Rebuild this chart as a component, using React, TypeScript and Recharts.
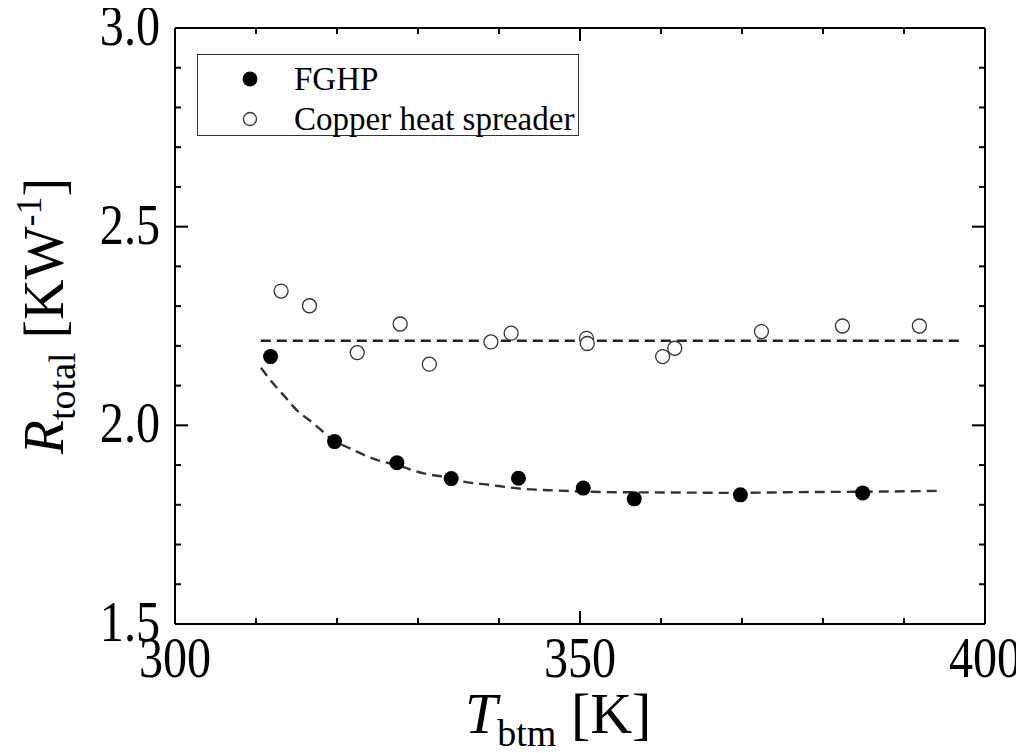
import { ComposedChart, Scatter, Line, XAxis, YAxis, Legend } from 'recharts';

// measured points, T_btm [K] vs R_total [K/W]
const fghpT = [311.8, 319.7, 327.4, 334.1, 342.4, 350.4, 356.7, 369.8, 384.9];
const fghpR = [2.173, 1.959, 1.906, 1.866, 1.867, 1.842, 1.815, 1.825, 1.83];

const copperT = [313.1, 316.6, 322.5, 327.8, 331.4, 339.0, 341.5, 350.8, 350.9, 360.2, 361.7, 372.4, 382.4, 391.9];
const copperR = [2.338, 2.301, 2.183, 2.255, 2.154, 2.21, 2.232, 2.219, 2.206, 2.173, 2.194, 2.236, 2.25, 2.25];

// dashed fit curves
const fghpFitT = [310.6, 312.1, 313.4, 315.0, 317.1, 319.5, 321.6, 324.9, 327.4, 330.7, 333.5, 335.2, 338.9, 343.0, 347.1, 353.3, 361.5, 368.9, 377.2, 385.8, 394.1];
const fghpFitR = [2.145, 2.106, 2.076, 2.039, 2.005, 1.963, 1.942, 1.913, 1.9, 1.879, 1.869, 1.86, 1.85, 1.84, 1.836, 1.832, 1.831, 1.83, 1.832, 1.833, 1.835];
const copperFitT = [310.6, 397.0];
const copperFitR = [2.213, 2.213];

const xTicks = [300, 310, 320, 330, 340, 350, 360, 370, 380, 390, 400];
const xLabels = [300, 350, 400];
const yTicks = [1.5, 1.6, 1.7, 1.8, 1.9, 2.0, 2.1, 2.2, 2.3, 2.4, 2.5, 2.6, 2.7, 2.8, 2.9, 3.0];
const yLabels = [1.5, 2.0, 2.5, 3.0];

const zip = (t: number[], r: number[]) => t.map((v, i) => ({ t: v, r: r[i] }));
const fghp = zip(fghpT, fghpR);
const copper = zip(copperT, copperR);
const fghpFit = zip(fghpFitT, fghpFitR);
const copperFit = zip(copperFitT, copperFitR);

const FONT = '"Liberation Serif", "Times New Roman", serif';

const isMajor = (v: number, labels: number[]) => labels.some((l) => Math.abs(l - v) < 1e-6);

// tick numbers in the original are tall and narrow
const TickText = ({ x, y, anchor, children }: any) => (
  <text
    transform={`translate(${x} ${y}) scale(0.86 1)`}
    textAnchor={anchor}
    fontSize={56}
    fontFamily={FONT}
    fill="#000"
  >
    {children}
  </text>
);

const BottomTick = (props: any) => {
  const { x, y, payload } = props;
  const major = isMajor(payload.value, xLabels);
  return (
    <g>
      <line x1={x} y1={y} x2={x} y2={y - (major ? 13 : 6)} stroke="#000" strokeWidth={2} />
      {major && (
        <TickText x={x} y={y + 53} anchor="middle">
          {payload.value}
        </TickText>
      )}
    </g>
  );
};

const TopTick = (props: any) => {
  const { x, y, payload } = props;
  const major = isMajor(payload.value, xLabels);
  return <line x1={x} y1={y} x2={x} y2={y + (major ? 13 : 6)} stroke="#000" strokeWidth={2} />;
};

const LeftTick = (props: any) => {
  const { x, y, payload } = props;
  const major = isMajor(payload.value, yLabels);
  return (
    <g>
      <line x1={x} y1={y} x2={x + (major ? 13 : 6)} y2={y} stroke="#000" strokeWidth={2} />
      {major && (
        <TickText x={x - 15} y={y + 17} anchor="end">
          {payload.value.toFixed(1)}
        </TickText>
      )}
    </g>
  );
};

const RightTick = (props: any) => {
  const { x, y, payload } = props;
  const major = isMajor(payload.value, yLabels);
  return <line x1={x} y1={y} x2={x - (major ? 13 : 6)} y2={y} stroke="#000" strokeWidth={2} />;
};

const FilledDot = (props: any) => <circle cx={props.cx} cy={props.cy} r={7.5} fill="#000" />;
const OpenDot = (props: any) => (
  <circle cx={props.cx} cy={props.cy} r={7} fill="#fff" stroke="#333" strokeWidth={1.3} />
);

const YTitle = () => {
  const cx = 55;
  const cy = 308;
  return (
    <text
      x={cx}
      y={cy}
      transform={`rotate(-90 ${cx} ${cy})`}
      textAnchor="middle"
      fontFamily={FONT}
      fontSize={56}
      fill="#000"
    >
      <tspan fontStyle="italic">R</tspan>
      <tspan fontSize={38} dy={12}>total</tspan>
      <tspan dy={-12}> [KW</tspan>
      <tspan fontSize={36} dy={-22}>-1</tspan>
      <tspan dy={22}>]</tspan>
    </text>
  );
};

const XTitle = () => (
  <text x={457} y={725} fontFamily={FONT} fontSize={58} fill="#000">
    <tspan fontStyle="italic">T</tspan>
    <tspan fontSize={38} dy={13}>btm</tspan>
    <tspan dy={-13}> [K]</tspan>
  </text>
);

const LegendBox = () => (
  <div
    style={{
      position: 'relative',
      width: 382,
      height: 82,
      border: '1.2px solid #333',
      boxSizing: 'border-box',
      background: '#fff',
      fontFamily: FONT,
      fontSize: 33,
      color: '#000',
    }}
  >
    {[
      { label: 'FGHP', filled: true, top: 24 },
      { label: 'Copper heat spreader', filled: false, top: 64 },
    ].map((it) => (
      <div key={it.label} style={{ position: 'absolute', left: 0, top: it.top - 20, height: 40, display: 'flex', alignItems: 'center' }}>
        <svg width={96} height={40} style={{ display: 'block' }}>
          {it.filled ? (
            <circle cx={52} cy={20} r={7.5} fill="#000" />
          ) : (
            <circle cx={52} cy={20} r={6.5} fill="#fff" stroke="#333" strokeWidth={1.3} />
          )}
        </svg>
        <span style={{ lineHeight: '40px', whiteSpace: 'nowrap' }}>{it.label}</span>
      </div>
    ))}
  </div>
);

export default function App() {
  return (
    <ComposedChart
      width={1016}
      height={745}
      margin={{ top: 19, right: 38, left: 0, bottom: 0 }}
    >
      <XAxis
        xAxisId="bottom"
        dataKey="t"
        type="number"
        domain={[300, 400]}
        ticks={xTicks}
        interval={0}
        height={129}
        axisLine={{ stroke: '#000', strokeWidth: 2 }}
        tickLine={false}
        tickSize={0}
        tickMargin={0}
        tick={BottomTick}
        label={{ content: XTitle }}
      />
      <XAxis
        xAxisId="top"
        orientation="top"
        dataKey="t"
        type="number"
        domain={[300, 400]}
        ticks={xTicks}
        interval={0}
        height={1}
        axisLine={{ stroke: '#000', strokeWidth: 2 }}
        tickLine={false}
        tickSize={0}
        tickMargin={0}
        tick={TopTick}
      />
      <YAxis
        yAxisId="left"
        dataKey="r"
        type="number"
        domain={[1.5, 3.0]}
        ticks={yTicks}
        interval={0}
        width={167}
        axisLine={{ stroke: '#000', strokeWidth: 2 }}
        tickLine={false}
        tickSize={0}
        tickMargin={0}
        tick={LeftTick}
        label={{ content: YTitle }}
      />
      <YAxis
        yAxisId="right"
        orientation="right"
        dataKey="r"
        type="number"
        domain={[1.5, 3.0]}
        ticks={yTicks}
        interval={0}
        width={1}
        axisLine={{ stroke: '#000', strokeWidth: 2 }}
        tickLine={false}
        tickSize={0}
        tickMargin={0}
        tick={RightTick}
      />
      <Legend
        layout="horizontal"
        verticalAlign="middle"
        align="center"
        content={LegendBox}
        wrapperStyle={{ top: 46, left: 189, width: 382, height: 82 }}
      />
      {/* same domains, so tying this one to the top/right axes keeps those axes drawn */}
      <Line
        xAxisId="top"
        yAxisId="right"
        data={copperFit}
        dataKey="r"
        type="linear"
        stroke="#222"
        strokeWidth={2.6}
        strokeDasharray="10 6"
        dot={false}
        activeDot={false}
        isAnimationActive={false}
        legendType="none"
      />
      <Line
        xAxisId="bottom"
        yAxisId="left"
        data={fghpFit}
        dataKey="r"
        type="monotone"
        stroke="#333"
        strokeWidth={2.4}
        strokeDasharray="10 6"
        dot={false}
        activeDot={false}
        isAnimationActive={false}
        legendType="none"
      />
      <Scatter
        xAxisId="bottom"
        yAxisId="left"
        name="FGHP"
        data={fghp}
        dataKey="r"
        shape={FilledDot}
        isAnimationActive={false}
      />
      <Scatter
        xAxisId="bottom"
        yAxisId="left"
        name="Copper heat spreader"
        data={copper}
        dataKey="r"
        shape={OpenDot}
        isAnimationActive={false}
      />
    </ComposedChart>
  );
}
